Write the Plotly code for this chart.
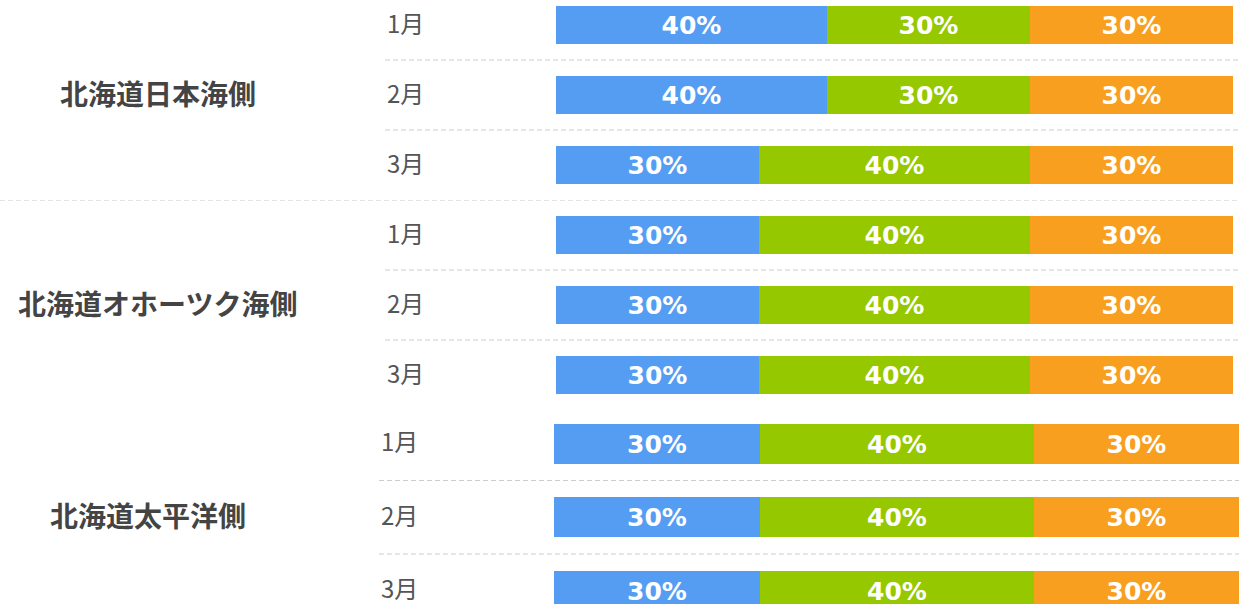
import plotly.graph_objects as go

# ---- data ----
regions = ["北海道日本海側", "北海道オホーツク海側", "北海道太平洋側"]
months = ["1月", "2月", "3月"]
series_names = ["低い", "平年並", "高い"]
# values[series][region][month] in percent
low = [[40, 40, 30], [30, 30, 30], [30, 30, 30]]
normal = [[30, 30, 40], [40, 40, 40], [40, 40, 40]]
high = [[30, 30, 30], [30, 30, 30], [30, 30, 30]]
series_values = [low, normal, high]

# ---- style / layout geometry (pixels) ----
colors = ["#559DF3", "#96C800", "#F89F1F"]
W, H = 1239, 604
group_top = [-10, 200, 407]          # virtual top of each group's first row
band = [(0, 200), (200, 407), (407, 604)]   # visible pixel band of each group
row_h = [70, 70, 73.5]
bar_w = [38, 38, 40]
bar_x = [(556, 1233), (556, 1233), (554, 1239)]
month_x = [385, 385, 379]
region_x = [158, 157, 148]
sep_x0 = [385, 385, 379]


def ax_id(g):
    return "" if g == 0 else str(g + 1)


fig = go.Figure()

for s, (name, vals) in enumerate(zip(series_names, series_values)):
    for g in range(len(regions)):
        centers = [group_top[g] + (i + 0.5) * row_h[g] for i in range(len(months))]
        v = vals[g]
        fig.add_trace(go.Bar(
            name=name,
            orientation="h",
            x=v,
            y=centers,
            width=[bar_w[g]] * len(v),
            xaxis="x" + ax_id(g),
            yaxis="y" + ax_id(g),
            marker=dict(color=colors[s], line=dict(width=0)),
            text=[f"{x}%" for x in v],
            textposition="inside",
            insidetextanchor="middle",
            textangle=0,
            constraintext="none",
            textfont=dict(family="DejaVu Sans", size=25, color="white", weight="bold"),
            showlegend=False,
            hoverinfo="skip",
        ))

shapes = []
annotations = []
layout_axes = {}
for g, region in enumerate(regions):
    yref = "y" + ax_id(g)
    top, bottom = band[g]
    x0, x1 = bar_x[g]
    layout_axes["xaxis" + ax_id(g)] = dict(
        domain=[x0 / W, x1 / W], range=[0, 100], visible=False,
        fixedrange=True, anchor=yref)
    layout_axes["yaxis" + ax_id(g)] = dict(
        domain=[1 - bottom / H, 1 - top / H], range=[bottom, top], visible=False,
        fixedrange=True, anchor="x" + ax_id(g))
    centers = [group_top[g] + (i + 0.5) * row_h[g] for i in range(len(months))]
    for i, m in enumerate(months):
        annotations.append(dict(
            x=month_x[g] / W, y=centers[i], xref="paper", yref=yref,
            text=m, showarrow=False, xanchor="left", yanchor="middle", yshift=3,
            font=dict(family="Noto Sans CJK JP", size=24, color="#555555"),
        ))
        if i > 0:
            yy = group_top[g] + i * row_h[g]
            shapes.append(dict(
                type="line", xref="paper", yref=yref,
                x0=sep_x0[g] / W, x1=1, y0=yy, y1=yy,
                line=dict(color="#cccccc", width=1, dash="5px,3px"),
            ))
    annotations.append(dict(
        x=region_x[g] / W, y=group_top[g] + 1.5 * row_h[g], xref="paper", yref=yref,
        text=region, showarrow=False, xanchor="center", yanchor="middle", yshift=2,
        font=dict(family="Noto Sans CJK JP", size=28, color="#444444", weight="bold"),
    ))

# group separator between first and second region
shapes.append(dict(
    type="line", xref="paper", yref="y2",
    x0=0, x1=1, y0=group_top[1], y1=group_top[1],
    line=dict(color="#cccccc", width=1, dash="5px,3px"),
))

fig.update_layout(
    width=W, height=H,
    margin=dict(l=0, r=0, t=0, b=0),
    paper_bgcolor="white", plot_bgcolor="white",
    barmode="stack",
    bargap=0,
    showlegend=False,
    shapes=shapes,
    annotations=annotations,
    **layout_axes,
)

fig.write_html(
    "out.html",
    config={"displayModeBar": False},
    post_script="document.body.style.margin='0';document.body.style.overflow='hidden';",
)
